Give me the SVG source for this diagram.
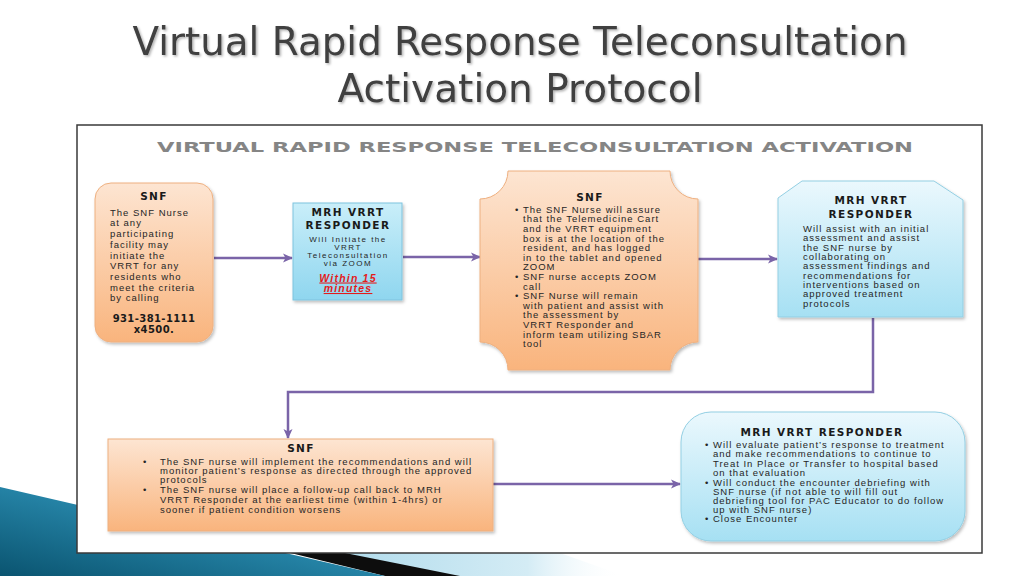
<svg xmlns="http://www.w3.org/2000/svg" width="1024" height="576" viewBox="0 0 1024 576">
<defs>
<style>
.t{font-family:"DejaVu Sans","Liberation Sans",sans-serif;font-size:39px;fill:#404040;text-anchor:middle}
.hd{font-family:"DejaVu Sans",sans-serif;font-weight:bold;font-size:14px;fill:#858585;text-anchor:middle}
.h{font-family:"DejaVu Sans",sans-serif;font-weight:bold;font-size:10.5px;letter-spacing:1.4px;fill:#1a1a1a;text-anchor:middle}
.b{font-family:"Liberation Sans",Arial,sans-serif;font-size:9.5px;letter-spacing:1px;fill:#262626}
.s{font-family:"Liberation Sans",Arial,sans-serif;font-size:8px;letter-spacing:1.5px;fill:#262626;text-anchor:middle}
.ph{font-family:"DejaVu Sans",sans-serif;font-weight:bold;font-size:10px;letter-spacing:0.4px;fill:#1a1a1a;text-anchor:middle}
.red{font-family:"Liberation Sans",Arial,sans-serif;font-weight:bold;font-style:italic;font-size:10.5px;letter-spacing:1.2px;fill:#e41b1b;text-anchor:middle;text-decoration:underline}
.or{fill:url(#gOr);stroke:#eeb080;stroke-width:1;filter:url(#sh)}
.bl{fill:url(#gBl);stroke:#93cfe3;stroke-width:1;filter:url(#sh)}
.bl2{fill:url(#gBl2);stroke:#7fc3de;stroke-width:1;filter:url(#sh)}
.cn{fill:none;stroke:#7a64a8;stroke-width:2.5;marker-end:url(#ah)}
</style>
<linearGradient id="gOr" x1="0" y1="0" x2="0" y2="1"><stop offset="0" stop-color="#fde5d2"/><stop offset="1" stop-color="#f9b47d"/></linearGradient>
<linearGradient id="gBl" x1="0" y1="0" x2="0" y2="1"><stop offset="0" stop-color="#ebf8fd"/><stop offset="1" stop-color="#a6e0f3"/></linearGradient>
<linearGradient id="gBl2" x1="0" y1="0" x2="0" y2="1"><stop offset="0" stop-color="#c9eef9"/><stop offset="1" stop-color="#8fd6ef"/></linearGradient>
<linearGradient id="gTeal" x1="0" y1="1" x2="1" y2="0"><stop offset="0" stop-color="#0a5470"/><stop offset="0.6" stop-color="#2a8cb0"/><stop offset="1" stop-color="#5cc0dc"/></linearGradient>
<linearGradient id="gLight" x1="0" y1="0" x2="1" y2="0"><stop offset="0" stop-color="#a9d8ea"/><stop offset="0.7" stop-color="#d4ecf5"/><stop offset="1" stop-color="#ffffff" stop-opacity="0"/></linearGradient>
<filter id="sh" x="-10%" y="-10%" width="130%" height="130%"><feDropShadow dx="1.5" dy="2" stdDeviation="1.5" flood-color="#000" flood-opacity="0.25"/></filter>
<filter id="tsh" x="-5%" y="-20%" width="110%" height="150%"><feDropShadow dx="1.5" dy="1.5" stdDeviation="0.8" flood-color="#000" flood-opacity="0.3"/></filter>
<marker id="ah" viewBox="0 0 10 10" refX="9" refY="5" markerWidth="10" markerHeight="10" markerUnits="userSpaceOnUse" orient="auto"><path d="M0,0.5 L10,5 L0,9.5 L2.5,5 z" fill="#7a64a8"/></marker>
</defs>
<rect width="1024" height="576" fill="#ffffff"/>
<g id="decoration">
<polygon points="300,553 560,553 625,576 400,576" fill="url(#gLight)"/>
<polygon points="270,548 345,553 460,576 385,576" fill="#0d0d0d"/>
<polygon points="0,487 385,576 0,576" fill="url(#gTeal)"/>
</g>
<g id="title" filter="url(#tsh)">
<text class="t" x="520" y="55" textLength="775" lengthAdjust="spacingAndGlyphs">Virtual Rapid Response Teleconsultation</text>
<text class="t" x="520" y="102" textLength="365" lengthAdjust="spacingAndGlyphs">Activation Protocol</text>
</g>
<rect id="frame" x="77" y="125" width="905" height="428" fill="#ffffff" stroke="#3a3a3a" stroke-width="1.5"/>
<text class="hd" x="535" y="152" textLength="756" lengthAdjust="spacingAndGlyphs">VIRTUAL RAPID RESPONSE TELECONSULTATION ACTIVATION</text>
<g id="connectors">
<path class="cn" d="M214,258 H292"/>
<path class="cn" d="M403,257 H480"/>
<path class="cn" d="M698,259 H777"/>
<path class="cn" d="M873,318 V392 H288 V438"/>
<path class="cn" d="M493,484 H680"/>
</g>
<g id="node-snf-start">
<rect class="or" x="95" y="183" width="118" height="159" rx="16"/>
<text class="h" x="154" y="200">SNF</text>
<text class="b" x="110" y="215.5">The SNF Nurse</text>
<text class="b" x="110" y="226">at any</text>
<text class="b" x="110" y="237">participating</text>
<text class="b" x="110" y="247.5">facility may</text>
<text class="b" x="110" y="258.5">initiate the</text>
<text class="b" x="110" y="268.5">VRRT for any</text>
<text class="b" x="110" y="279.5">residents who</text>
<text class="b" x="110" y="290.5">meet the criteria</text>
<text class="b" x="110" y="300.5">by calling</text>
<text class="ph" x="154" y="322">931-381-1111</text>
<text class="ph" x="154" y="332.5">x4500.</text>
</g>
<g id="node-mrh-initiate">
<rect class="bl2" x="293" y="203" width="109" height="97"/>
<text class="h" x="348" y="216">MRH VRRT</text>
<text class="h" x="348" y="229">RESPONDER</text>
<text class="s" x="348" y="241.5">Will Initiate the</text>
<text class="s" x="348" y="249.5">VRRT</text>
<text class="s" x="348" y="257.5">Teleconsultation</text>
<text class="s" x="348" y="265.5">via ZOOM</text>
<text class="red" x="348" y="281.5">Within 15</text>
<text class="red" x="348" y="292">minutes</text>
</g>
<g id="node-snf-zoom">
<path class="or" d="M508,171 H670 A28,28 0 0 0 698,199 V342 A28,28 0 0 0 670,370 H508 A28,28 0 0 0 480,342 V199 A28,28 0 0 0 508,171 Z"/>
<text class="h" x="590" y="200.5">SNF</text>
<text class="b" x="515" y="212.8">•</text>
<text class="b" x="523" y="212.8">The SNF Nurse will assure</text>
<text class="b" x="523" y="222.4">that the Telemedicine Cart</text>
<text class="b" x="523" y="232">and the VRRT equipment</text>
<text class="b" x="523" y="241.6">box is at the location of the</text>
<text class="b" x="523" y="251.2">resident, and has logged</text>
<text class="b" x="523" y="260.8">in to the tablet and opened</text>
<text class="b" x="523" y="270.4">ZOOM</text>
<text class="b" x="515" y="280">•</text>
<text class="b" x="523" y="280">SNF nurse accepts ZOOM</text>
<text class="b" x="523" y="289.6">call</text>
<text class="b" x="515" y="299.2">•</text>
<text class="b" x="523" y="299.2">SNF Nurse will remain</text>
<text class="b" x="523" y="308.8">with patient and assist with</text>
<text class="b" x="523" y="318.4">the assessment by</text>
<text class="b" x="523" y="328">VRRT Responder and</text>
<text class="b" x="523" y="337.6">inform team utilizing SBAR</text>
<text class="b" x="523" y="347.2">tool</text>
</g>
<g id="node-mrh-assist">
<polygon class="bl" points="778,198 802,181 934,181 963,200 963,317 778,317"/>
<text class="h" x="871" y="204">MRH VRRT</text>
<text class="h" x="871" y="218">RESPONDER</text>
<text class="b" x="803" y="231.5">Will assist with an initial</text>
<text class="b" x="803" y="241">assessment and assist</text>
<text class="b" x="803" y="250.5">the SNF nurse by</text>
<text class="b" x="803" y="259.5">collaborating on</text>
<text class="b" x="803" y="268.5">assessment findings and</text>
<text class="b" x="803" y="278.5">recommendations for</text>
<text class="b" x="803" y="287.5">interventions based on</text>
<text class="b" x="803" y="296.5">approved treatment</text>
<text class="b" x="803" y="306.5">protocols</text>
</g>
<g id="node-snf-implement">
<rect class="or" x="108" y="439" width="385" height="92"/>
<text class="h" x="301" y="452">SNF</text>
<text class="b" x="143" y="464.5">•</text>
<text class="b" x="160" y="464.5">The SNF nurse will implement the recommendations and will</text>
<text class="b" x="160" y="474">monitor patient’s response as directed through the approved</text>
<text class="b" x="160" y="483">protocols</text>
<text class="b" x="143" y="492.5">•</text>
<text class="b" x="160" y="492.5">The SNF nurse will place a follow-up call back to  MRH</text>
<text class="b" x="160" y="502.5">VRRT Responder at the earliest time (within 1-4hrs) or</text>
<text class="b" x="160" y="512.5">sooner if patient condition worsens</text>
</g>
<g id="node-mrh-evaluate">
<rect class="bl" x="681" y="412" width="284" height="129" rx="30"/>
<text class="h" x="822" y="436">MRH VRRT RESPONDER</text>
<text class="b" x="705" y="447.5">•</text>
<text class="b" x="713" y="447.5">Will evaluate patient’s response to treatment</text>
<text class="b" x="713" y="457">and make recommendations to continue to</text>
<text class="b" x="713" y="466.5">Treat In Place or Transfer to hospital based</text>
<text class="b" x="713" y="476">on that evaluation</text>
<text class="b" x="705" y="485.5">•</text>
<text class="b" x="713" y="485.5">Will conduct the encounter debriefing with</text>
<text class="b" x="713" y="494.5">SNF nurse (if not able to will fill out</text>
<text class="b" x="713" y="503.5">debriefing tool for PAC Educator to do follow</text>
<text class="b" x="713" y="512.5">up with SNF nurse)</text>
<text class="b" x="705" y="522">•</text>
<text class="b" x="713" y="522">Close Encounter</text>
</g>
</svg>
